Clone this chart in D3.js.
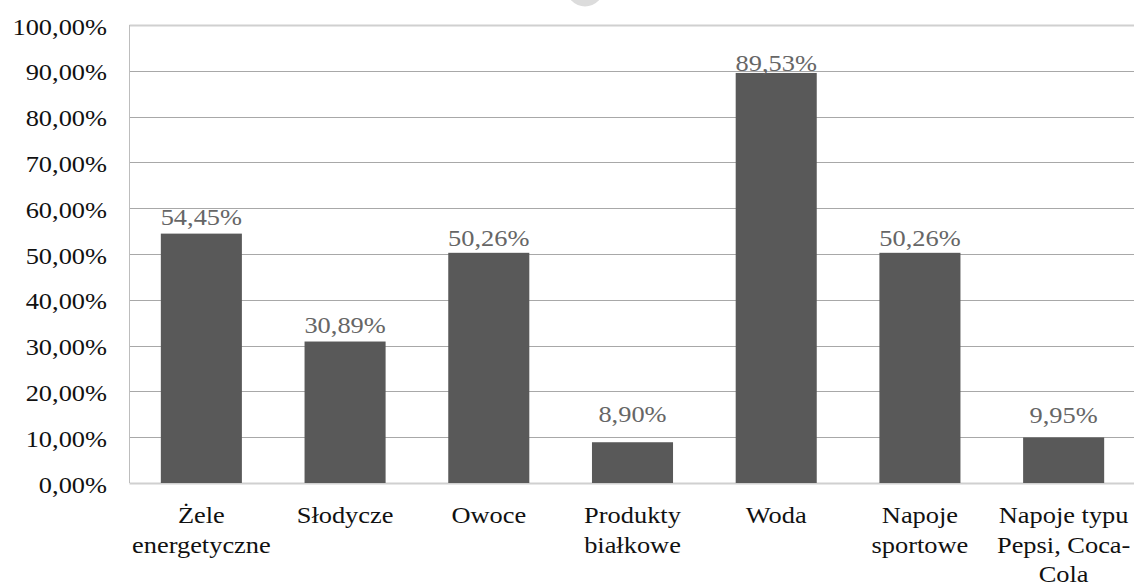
<!DOCTYPE html>
<html>
<head>
<meta charset="utf-8">
<script src="https://cdn.jsdelivr.net/npm/d3@7"></script>
<style>
  html, body { margin: 0; padding: 0; background: #fff; }
  svg { display: block; }
</style>
</head>
<body>
<svg id="chart" width="1134" height="586"></svg>
<script>
// Categories (line breaks mark where each label wraps)
const categories = [
  "Żele\nenergetyczne",
  "Słodycze",
  "Owoce",
  "Produkty\nbiałkowe",
  "Woda",
  "Napoje\nsportowe",
  "Napoje typu\nPepsi, Coca-\nCola"
];
// Share of respondents, in percent
const values = [54.45, 30.89, 50.26, 8.90, 89.53, 50.26, 9.95];
// Y axis ticks, in percent
const yTicks = [0, 10, 20, 30, 40, 50, 60, 70, 80, 90, 100];
// Gap between each value label's baseline and its bar top (px)
const labelLift = [8.6, 8.4, 7.3, 20.5, 2, 7.3, 14.4];

// pick the first installed serif face
function pickFont(candidates) {
  const ctx = document.createElement("canvas").getContext("2d");
  const probe = "Słodycze 100,00% Wwmil";
  ctx.font = "40px monospace";
  const base = ctx.measureText(probe).width;
  for (const f of candidates) {
    ctx.font = `40px "${f}", monospace`;
    if (Math.abs(ctx.measureText(probe).width - base) > 0.5) return `"${f}"`;
  }
  return "serif";
}
const serif = pickFont(["Liberation Serif", "Tinos", "Times New Roman", "DejaVu Serif", "Noto Serif", "FreeSerif"]);

const svg = d3.select("#chart").attr("font-family", serif);
const W = 1134;
const plotLeft = 129.5, plotRight = 1135.5, plotTop = 25, plotBottom = 483;
const stretch = 1.1;

const pl = d3.formatLocale({ decimal: ",", thousands: " ", grouping: [3], currency: ["", " zł"], percent: "%" });
const fmt = pl.format(".2%");

const x = d3.scaleBand()
  .domain(categories)
  .range([plotLeft, plotRight])
  .paddingInner(0.436)
  .paddingOuter(0.218);

const y = d3.scaleLinear().domain([0, 100]).range([plotBottom, plotTop]);

// faint mark at the top edge
svg.append("ellipse")
  .attr("cx", 585).attr("cy", -13).attr("rx", 19).attr("ry", 19.5)
  .attr("fill", "#dcdcdc");

// gridlines
svg.append("g")
  .selectAll("line")
  .data(yTicks)
  .join("line")
  .attr("x1", plotLeft).attr("x2", W)
  .attr("y1", d => Math.round(y(d)) + 0.5)
  .attr("y2", d => Math.round(y(d)) + 0.5)
  .attr("stroke", d => (d === 0 || d === 100) ? "#d0d0d0" : "#a8a8a8")
  .attr("stroke-width", d => (d === 0 || d === 100) ? 2 : 1);

// left axis line
svg.append("line")
  .attr("x1", plotLeft).attr("x2", plotLeft)
  .attr("y1", y(100)).attr("y2", y(0))
  .attr("stroke", "#bdbdbd").attr("stroke-width", 1);

// y tick labels
svg.append("g")
  .selectAll("text")
  .data(yTicks)
  .join("text")
  .attr("font-family", serif)
  .attr("transform", d => `translate(107,${y(d) + 9.5}) scale(${stretch},1)`)
  .attr("text-anchor", "end")
  .attr("font-size", 24)
  .attr("fill", "#111")
  .text(d => fmt(d / 100));

// bars
svg.append("g")
  .selectAll("rect")
  .data(values)
  .join("rect")
  .attr("x", (d, i) => x(categories[i]))
  .attr("width", x.bandwidth())
  .attr("y", d => y(d))
  .attr("height", d => y(0) - y(d))
  .attr("fill", "#595959");

// value labels
svg.append("g")
  .selectAll("text")
  .data(values)
  .join("text")
  .attr("font-family", serif)
  .attr("transform", (d, i) =>
    `translate(${x(categories[i]) + x.bandwidth() / 2},${y(d) - labelLift[i]}) scale(${stretch},1)`)
  .attr("text-anchor", "middle")
  .attr("font-size", 24)
  .attr("fill", "#666")
  .text(d => fmt(d / 100));

// category labels
const cat = svg.append("g")
  .selectAll("g")
  .data(categories)
  .join("g")
  .attr("transform", d => `translate(${x(d) + x.bandwidth() / 2},523)`);

cat.each(function (d) {
  d3.select(this).selectAll("text")
    .data(d.split("\n"))
    .join("text")
    .attr("font-family", serif)
    .attr("transform", (t, j) => `translate(0,${j * 29.5}) scale(${stretch},1)`)
    .attr("text-anchor", "middle")
    .attr("font-size", 24)
    .attr("fill", "#111")
    .text(t => t);
});
</script>
</body>
</html>
